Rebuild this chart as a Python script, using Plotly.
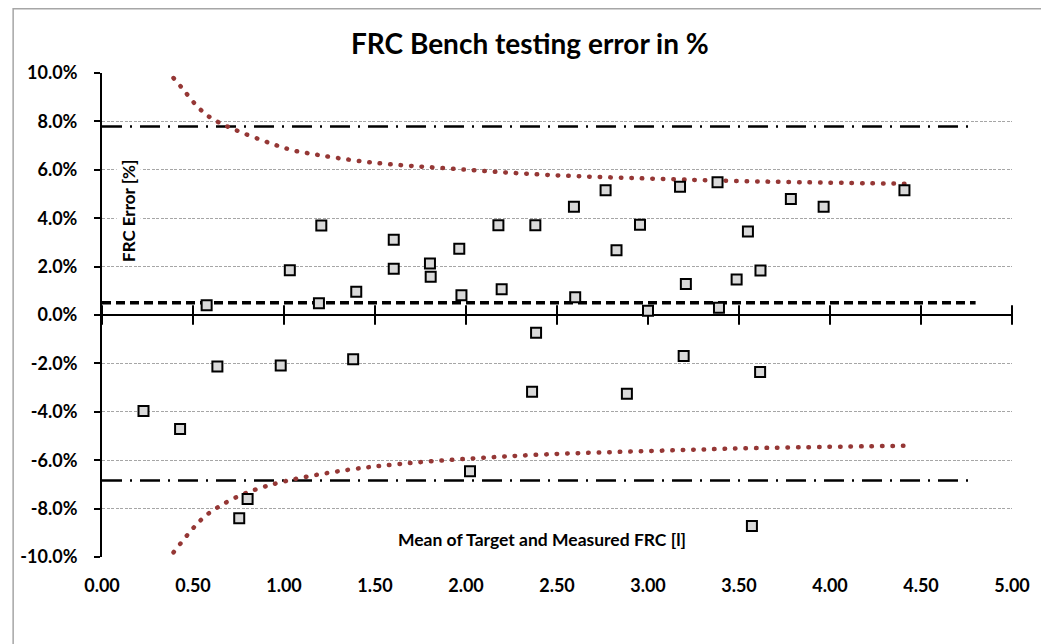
import plotly.graph_objects as go

# ---- data (percent error vs mean FRC in litres) ----
pos_x = [0.575, 1.032, 1.205, 1.192, 1.397, 1.603, 1.603, 1.802, 1.806, 1.963, 1.975,
         2.178, 2.196, 2.381, 2.593, 2.600, 2.767, 2.827, 2.956, 3.000, 3.176, 3.208,
         3.382, 3.390, 3.487, 3.549, 3.618, 3.785, 3.965, 4.409]
pos_y = [0.40, 1.85, 3.70, 0.49, 0.96, 3.11, 1.91, 2.13, 1.58, 2.74, 0.82,
         3.71, 1.06, 3.71, 4.47, 0.73, 5.16, 2.68, 3.73, 0.18, 5.30, 1.28,
         5.49, 0.30, 1.47, 3.45, 1.84, 4.79, 4.47, 5.16]
neg_x = [0.228, 0.429, 0.634, 0.982, 1.380, 0.800, 0.754,
         2.385, 2.363, 2.884, 3.196, 3.616, 2.022, 3.571]
neg_y = [-3.97, -4.71, -2.13, -2.09, -1.83, -7.60, -8.40,
         -0.73, -3.17, -3.25, -1.69, -2.36, -6.46, -8.72]
data_x = pos_x + neg_x
data_y = pos_y + neg_y

# reference lines (bias and limits of agreement)
line_x = [0.0, 4.8]
bias = [0.51, 0.51]
upper_loa = [7.79, 7.79]
lower_loa = [-6.84, -6.84]

# trend curves
upper_curve_x = [0.393, 0.433, 0.542, 0.639, 1.017, 1.128, 1.473, 1.930, 2.446, 3.130, 3.600, 4.460]
upper_curve_y = [9.79, 9.44, 8.48, 7.97, 6.87, 6.69, 6.31, 6.04, 5.79, 5.61, 5.52, 5.42]
lower_curve_x = [0.393, 0.542, 0.633, 0.790, 1.010, 1.350, 1.630, 1.970, 2.440, 3.010, 3.590, 4.455]
lower_curve_y = [-9.81, -8.48, -7.96, -7.36, -6.86, -6.40, -6.16, -5.96, -5.76, -5.62, -5.50, -5.40]

x_ticks = [0.0, 0.5, 1.0, 1.5, 2.0, 2.5, 3.0, 3.5, 4.0, 4.5, 5.0]
x_tick_labels = ["0.00", "0.50", "1.00", "1.50", "2.00", "2.50", "3.00", "3.50", "4.00", "4.50", "5.00"]
y_ticks = [-10, -8, -6, -4, -2, 0, 2, 4, 6, 8, 10]
y_tick_labels = ["-10.0%", "-8.0%", "-6.0%", "-4.0%", "-2.0%", "0.0%", "2.0%", "4.0%", "6.0%", "8.0%", "10.0%"]

FONT = "Lato"
RED = "#953735"

W, H = 1049, 644
ML, MR, MT, MB = 90, 45, 65, 95
PW, PH = W - ML - MR, H - MT - MB

fig = go.Figure()

fig.add_trace(go.Scatter(x=line_x, y=upper_loa, mode="lines",
                         line=dict(color="black", width=2.5, dash="20px,8px,2px,8px"),
                         hoverinfo="skip"))
fig.add_trace(go.Scatter(x=line_x, y=lower_loa, mode="lines",
                         line=dict(color="black", width=2.5, dash="20px,8px,2px,8px"),
                         hoverinfo="skip"))
fig.add_trace(go.Scatter(x=line_x, y=bias, mode="lines",
                         line=dict(color="black", width=3.5, dash="9px,5px"),
                         hoverinfo="skip"))
fig.add_trace(go.Scatter(x=upper_curve_x, y=upper_curve_y, mode="lines",
                         line=dict(color=RED, width=4.5, dash="0.5px,10px", shape="spline"),
                         hoverinfo="skip"))
fig.add_trace(go.Scatter(x=lower_curve_x, y=lower_curve_y, mode="lines",
                         line=dict(color=RED, width=4.5, dash="0.5px,10px", shape="spline"),
                         hoverinfo="skip"))
# cross tick marks on the zero axis line
fig.add_trace(go.Scatter(x=x_ticks, y=[0] * len(x_ticks), mode="markers",
                         marker=dict(symbol="line-ns", size=14,
                                     line=dict(color="black", width=2)),
                         hoverinfo="skip", cliponaxis=False))
fig.add_trace(go.Scatter(x=data_x, y=data_y, mode="markers",
                         marker=dict(symbol="square", size=10, color="#d9d9d9",
                                     line=dict(color="black", width=2)),
                         cliponaxis=False))

fig.update_layout(
    width=W, height=H,
    margin=dict(l=ML, r=MR, t=MT, b=MB),
    paper_bgcolor="white", plot_bgcolor="white",
    showlegend=False,
    font=dict(family=FONT, color="black"),
    xaxis=dict(range=[0, 5], tickvals=x_ticks, ticktext=x_tick_labels,
               showgrid=False, zeroline=False, showline=False, ticks="",
               ticklabelstandoff=16,
               tickfont=dict(family=FONT, size=18, weight="bold", color="black")),
    yaxis=dict(range=[-10, 10], tickvals=y_ticks, ticktext=y_tick_labels,
               showgrid=True, gridcolor="#a6a6a6", gridwidth=1, griddash="3px,1.5px",
               zeroline=True, zerolinecolor="black", zerolinewidth=2,
               showline=True, linecolor="black", linewidth=2,
               ticks="outside", ticklen=6, tickwidth=2, tickcolor="black",
               ticklabelstandoff=13,
               tickfont=dict(family=FONT, size=18, weight="bold", color="black")),
    shapes=[dict(type="rect", xref="paper", yref="paper",
                 x0=(0.75 - ML) / PW, x1=(W + 20 - ML) / PW,
                 y0=(PH + MT - 0.75) / PH, y1=-(MB + 20) / PH,
                 line=dict(color="#a6a6a6", width=1.5), layer="below")],
    annotations=[
        dict(text="FRC Bench testing error in %", xref="paper", yref="paper",
             x=(520 - ML) / PW, y=(PH + MT - 35) / PH, showarrow=False,
             xanchor="center", yanchor="middle",
             font=dict(family=FONT, size=28, weight="bold", color="black")),
        dict(text="FRC Error [%]", xref="x", yref="y", x=0.146, y=4.28,
             textangle=-90, showarrow=False, bgcolor="white",
             xanchor="center", yanchor="middle",
             font=dict(family=FONT, size=17, weight="bold", color="black")),
        dict(text="Mean of Target and Measured FRC [l]", xref="x", yref="y",
             x=2.42, y=-9.26, showarrow=False,
             xanchor="center", yanchor="middle",
             font=dict(family=FONT, size=17.5, weight="bold", color="black")),
    ],
)

post = """
var paths = document.querySelectorAll('.scatterlayer .trace path.js-line');
paths.forEach(function(p){
  var s = p.style.stroke || '';
  if (s.indexOf('149, 55, 53') >= 0) { p.style.strokeLinecap = 'round'; }
});
"""
fig.write_html("out.html", post_script=post)
